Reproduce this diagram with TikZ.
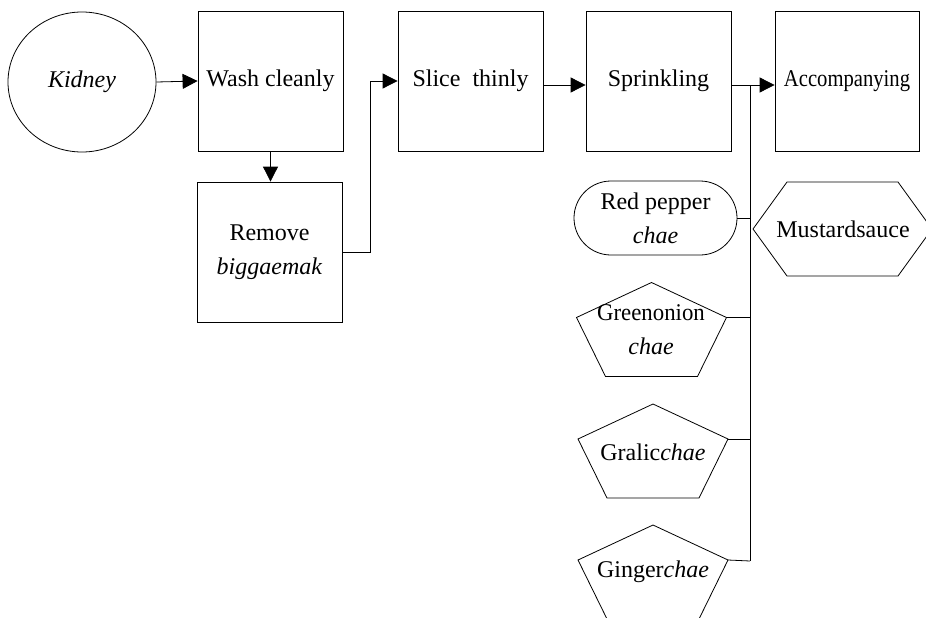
\documentclass[tikz,border=0pt]{standalone}
\usepackage{fontspec}
\setmainfont{Liberation Serif}
\usetikzlibrary{arrows.meta,shapes.geometric}
\begin{document}
\begin{tikzpicture}[x=1pt,y=-1pt,
  line width=0.8pt,
  every node/.style={font=\fontsize{24}{34}\selectfont, align=center, inner sep=0pt},
  stepbox/.style={draw, rectangle, minimum width=145pt, minimum height=140pt},
  arr/.style={-{Triangle[length=15pt,width=15pt]}},
  pent/.pic={
    \draw (0,-47) -- (75,-12) -- (46,47) -- (-46,47) -- (-75,-12) -- cycle;
    \coordinate (-r) at (75,-12);
  }
]
\useasboundingbox (0,0) rectangle (926,618);
\clip (0,0) rectangle (926,618);

% main process row
\node[draw, ellipse, minimum width=148pt, minimum height=140pt] (kidney) at (82,82) {\textit{Kidney}};
\node[stepbox] (wash) at (270.5,81) {Wash cleanly};
\node[stepbox] (remove) at (269.5,252) {Remove\\\textit{biggaemak}};
\node[stepbox] (slice) at (470.5,81) {Slice~~thinly};
\node[stepbox] (sprink) at (658.5,81) {Sprinkling};
\node[stepbox, minimum width=144pt] (accomp) at (847,81) {\scalebox{0.86}[1]{Accompanying}};

\draw[arr] (kidney.east) -- (wash.west);
\draw[arr] (wash.south) -- (wash.south |- remove.north);
\draw[arr] (remove.east) -- ++(28,0) |- (slice.west);
\draw[arr] ([yshift=-4pt]slice.east) -- ([yshift=-4pt]sprink.west);
\draw[arr] ([yshift=-4pt]sprink.east) -- ([yshift=-4pt]accomp.west);

% seasonings
\node[draw, rectangle, rounded corners=37pt, minimum width=163pt, minimum height=74pt] (pepper) at (655.5,218) {Red~pepper\\\textit{chae}};

\pic (green) at (651.5,329.5) {pent};
\node (greentxt) at (651,330) {\scalebox{0.95}[1]{Greenonion}\\\textit{chae}};

\pic (garlic) at (653,451) {pent};
\node (garlictxt) at (653,452) {Gralic\textit{chae}};

\pic (ginger) at (653,572) {pent};
\node (gingertxt) at (653,572) {Ginger\textit{chae}};

% sauce
\draw (753,229) -- (787,182) -- (898,182) -- (932,229) -- (898,276) -- (787,276) -- cycle;
\node (mustard) at (843,229) {Mustardsauce};

% collecting line
\coordinate (bustop) at (750,85);
\coordinate (busbot) at (750,561);
\draw (bustop) -- (busbot);
\draw (pepper.east) -- (pepper.east -| bustop);
\draw (green-r) -- (green-r -| bustop);
\draw (garlic-r) -- (garlic-r -| bustop);
\draw (ginger-r) -- (busbot);
\end{tikzpicture}
\end{document}
